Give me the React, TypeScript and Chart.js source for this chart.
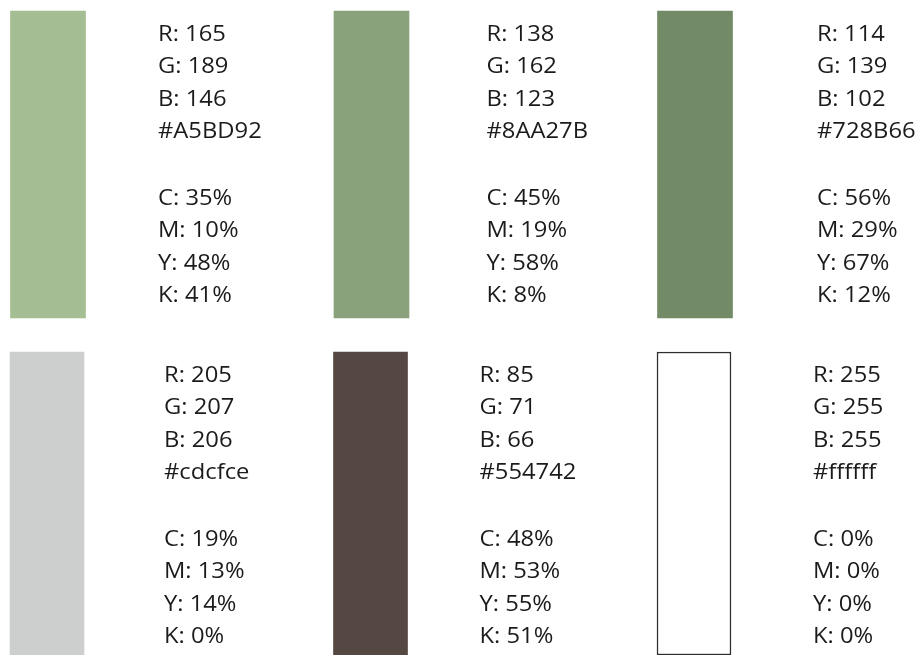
import React, { useEffect, useRef } from "react";
import { Chart, registerables } from "chart.js";

Chart.register(...registerables);

// ---- data ----
const hexCodes = ["#A5BD92", "#8AA27B", "#728B66", "#cdcfce", "#554742", "#ffffff"];
const redValues = [165, 138, 114, 205, 85, 255];
const greenValues = [189, 162, 139, 207, 71, 255];
const blueValues = [146, 123, 102, 206, 66, 255];
const cyanPct = [35, 45, 56, 19, 48, 0];
const magentaPct = [10, 19, 29, 13, 53, 0];
const yellowPct = [48, 58, 67, 14, 55, 0];
const blackPct = [41, 8, 12, 0, 51, 0];
const columnLabels = ["Column 1", "Column 2", "Column 3"];
const swatchFill = [1, 1, 1, 1, 1, 1]; // each swatch fills its row

// ---- layout / style (not data) ----
const TEXT_COLOR = "#1c1a1b";
const FONT = '22px "Open Sans", "Noto Sans", sans-serif';
const TEXT_STRETCH = 1.08;
const LINE_STEP = 32.5;
const CMYK_GAP = 164;
const FIRST_LINE = 22;

type RowStyle = {
  start: number;
  top: number;
  height: number;
  padding: { left: number; right: number; top: number; bottom: number };
  barThickness: number;
  textOffsets: number[];
};

const rows: RowStyle[] = [
  {
    start: 0,
    top: 0,
    height: 335,
    padding: { left: 48, right: 222, top: 11, bottom: 17 },
    barThickness: 75,
    textOffsets: [110, 115, 122],
  },
  {
    start: 3,
    top: 335,
    height: 320,
    padding: { left: 47, right: 223, top: 17, bottom: 0 },
    barThickness: 74,
    textOffsets: [117, 109, 119],
  },
];

const swatchTextPlugin = {
  id: "swatchText",
  afterDatasetsDraw(chart: any, _args: any, opts: any) {
    const { ctx, chartArea } = chart;
    const meta = chart.getDatasetMeta(0);
    const draw = (t: string, x: number, y: number) => {
      ctx.save();
      ctx.translate(x, y);
      ctx.scale(TEXT_STRETCH, 1);
      ctx.fillText(t, 0, 0);
      ctx.restore();
    };
    ctx.save();
    ctx.font = FONT;
    ctx.fillStyle = TEXT_COLOR;
    ctx.textAlign = "left";
    ctx.textBaseline = "alphabetic";
    meta.data.forEach((bar: any, i: number) => {
      const k = opts.start + i;
      const rgbLines = [
        `R: ${redValues[k]}`,
        `G: ${greenValues[k]}`,
        `B: ${blueValues[k]}`,
        hexCodes[k],
      ];
      const cmykLines = [
        `C: ${cyanPct[k]}%`,
        `M: ${magentaPct[k]}%`,
        `Y: ${yellowPct[k]}%`,
        `K: ${blackPct[k]}%`,
      ];
      const x = bar.x + opts.textOffsets[i];
      const y0 = chartArea.top + FIRST_LINE + 7.5;
      rgbLines.forEach((t, j) => draw(t, x, y0 + j * LINE_STEP));
      cmykLines.forEach((t, j) => draw(t, x, y0 + CMYK_GAP + j * LINE_STEP));
    });
    ctx.restore();
  },
};

function SwatchRow({ row }: { row: RowStyle }) {
  const ref = useRef<HTMLCanvasElement | null>(null);
  useEffect(() => {
    if (!ref.current) return;
    const idx = [0, 1, 2].map((i) => row.start + i);
    const isWhite = (k: number) => hexCodes[k].toLowerCase() === "#ffffff";
    const chart = new Chart(ref.current, {
      type: "bar",
      data: {
        labels: columnLabels,
        datasets: [
          {
            data: idx.map((k) => swatchFill[k]),
            backgroundColor: idx.map((k) => hexCodes[k]),
            borderColor: idx.map((k) => (isWhite(k) ? "#2e2e2e" : hexCodes[k])),
            borderWidth: idx.map((k) => (isWhite(k) ? 1.5 : 0)),
            borderSkipped: false,
            barThickness: row.barThickness,
            clip: false as any,
          },
        ],
      },
      options: {
        animation: false,
        responsive: false,
        devicePixelRatio: 1,
        events: [],
        layout: { padding: row.padding },
        plugins: {
          legend: { display: false },
          tooltip: { enabled: false },
          title: { display: false },
          swatchText: { start: row.start, textOffsets: row.textOffsets },
        } as any,
        scales: {
          x: { type: "category", offset: false, display: false },
          y: { type: "linear", min: 0, max: 1, display: false },
        },
      },
      plugins: [swatchTextPlugin],
    });
    return () => chart.destroy();
  }, [row]);
  return (
    <canvas
      ref={ref}
      width={917}
      height={row.height}
      style={{ position: "absolute", left: 0, top: row.top, width: 917, height: row.height, display: "block" }}
    />
  );
}

export default function App() {
  return (
    <div style={{ position: "absolute", left: 0, top: 0, width: 917, height: 655, background: "#ffffff", overflow: "hidden" }}>
      {rows.map((row, i) => (
        <SwatchRow key={i} row={row} />
      ))}
    </div>
  );
}
